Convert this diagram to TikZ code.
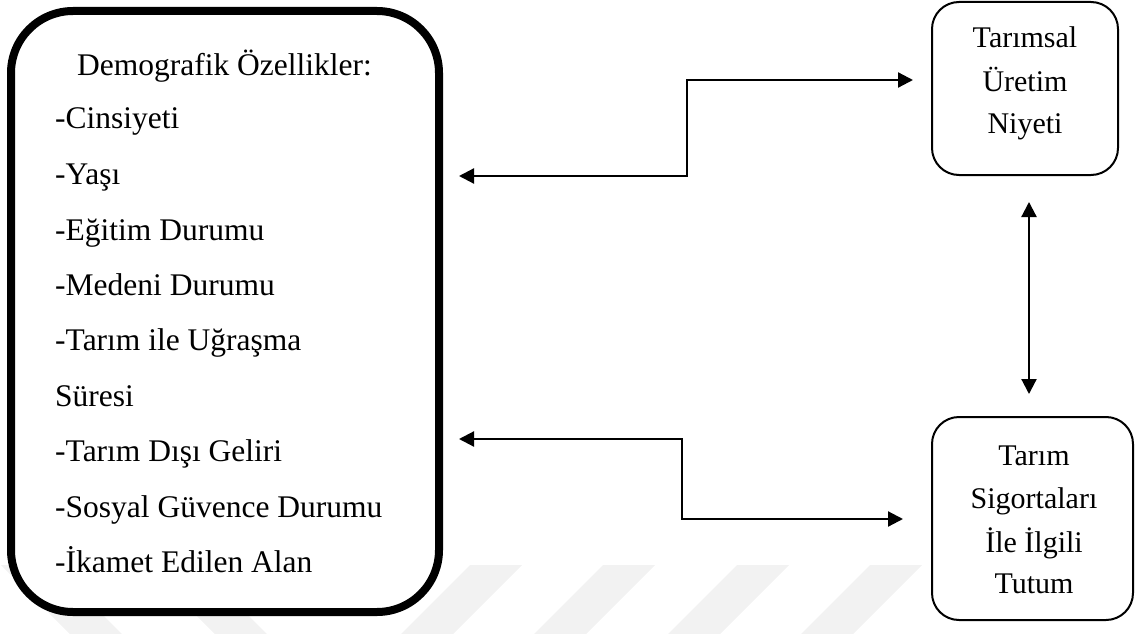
\documentclass[tikz,border=0pt]{standalone}
\usepackage{fontspec}
\setmainfont{Liberation Serif}
\usetikzlibrary{arrows.meta}
\begin{document}
\begin{tikzpicture}[x=1pt,y=-1pt,
 bigbox/.style={draw, line width=8pt, rounded corners=62pt, fill=white, minimum width=428pt, minimum height=601pt, inner sep=0pt},
 smallbox/.style={draw, line width=2pt, rounded corners=27pt, fill=white, inner sep=0pt},
 ltext/.style={anchor=base west, inner sep=0pt, font=\fontsize{31.5}{38}\selectfont},
 rtext/.style={anchor=base, inner sep=0pt, font=\fontsize{30}{36}\selectfont},
 conn/.style={line width=2.2pt, {Triangle[length=15pt,width=15pt]}-{Triangle[length=15pt,width=15pt]}},
 wm/.style={fill=black!5, draw=none}]
\useasboundingbox (0,0) rectangle (1138,634);
% faint watermark stripes
\foreach \a in {470,603,737,870}
  \fill[wm] (\a,565) -- (\a+52,565) -- (\a-17,634) -- (\a-69,634) -- cycle;
\foreach \a in {70,215}
  \fill[wm] (\a-69,565) -- (\a-17,565) -- (\a+52,634) -- (\a,634) -- cycle;
% left box
\node[bigbox] (demo) at (225,311.5) {};
\node[ltext, anchor=base] (title) at (224.5,75) {Demografik Özellikler:};
\node[ltext] (l1) at (55,128) {-Cinsiyeti};
\node[ltext] (l2) at (55,184) {-Yaşı};
\node[ltext] (l3) at (55,240) {-Eğitim Durumu};
\node[ltext] (l4) at (55,295) {-Medeni Durumu};
\node[ltext] (l5) at (55,350) {-Tarım ile Uğraşma};
\node[ltext] (l6) at (55,406) {Süresi};
\node[ltext] (l7) at (55,461) {-Tarım Dışı Geliri};
\node[ltext] (l8) at (55,517) {-Sosyal Güvence Durumu};
\node[ltext] (l9) at (55,572) {-İkamet Edilen Alan};
% top right box
\node[smallbox, minimum width=186pt, minimum height=173pt] (tbox) at (1025,88.5) {};
\node[rtext] (t1) at (1025,48) {Tarımsal};
\node[rtext] (t2) at (1025,92) {Üretim};
\node[rtext] (t3) at (1025,133) {Niyeti};
% bottom right box
\node[smallbox, minimum width=201pt, minimum height=203pt] (bbox) at (1032.5,518.5) {};
\node[rtext] (b1) at (1034,465) {Tarım};
\node[rtext] (b2) at (1034,508) {Sigortaları};
\node[rtext] (b3) at (1034,552) {İle İlgili};
\node[rtext] (b4) at (1034,593) {Tutum};
% connectors
\coordinate (y1) at (0,176);
\coordinate (y2) at (0,439);
\coordinate (k1) at (687,80);
\coordinate (k2) at (682,519);
\draw[conn, shorten <=16pt, shorten >=18pt] (demo.east |- y1) -| (k1) -- (tbox.west |- k1);
\draw[conn, shorten <=16pt, shorten >=28pt] (demo.east |- y2) -| (k2) -- (bbox.west |- k2);
\draw[conn, shorten <=26pt, shorten >=22pt] ([xshift=4pt]tbox.south) -- ([xshift=4pt]tbox.south |- bbox.north);
\end{tikzpicture}
\end{document}
